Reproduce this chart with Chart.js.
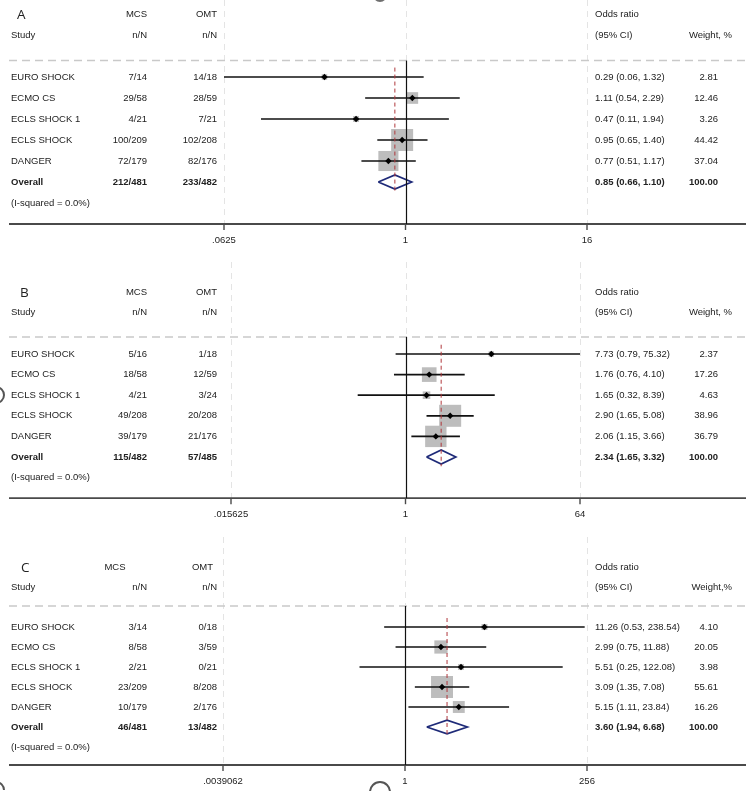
<!DOCTYPE html>
<html>
<head>
<meta charset="utf-8">
<script src="https://cdn.jsdelivr.net/npm/chart.js@4.4.1/dist/chart.umd.min.js"></script>
<style>
  html, body { margin: 0; padding: 0; background: #fff; }
  #wrap { position: relative; width: 750px; height: 791px; overflow: hidden; }
  #wrap canvas { position: absolute; left: 0; top: 0; }
</style>
</head>
<body>
<div id="wrap">
  <canvas id="panelA" width="750" height="791"></canvas>
  <canvas id="panelB" width="750" height="791"></canvas>
  <canvas id="panelC" width="750" height="791"></canvas>
</div>
<script>
const studies = ['EURO SHOCK', 'ECMO CS', 'ECLS SHOCK 1', 'ECLS SHOCK', 'DANGER']
const overallLabel = 'Overall'
const hetLabel = '(I-squared = 0.0%)'

// panel A  (last entry of every array = Overall)
const mcsEventsA = [7, 29, 4, 100, 72, 212]
const mcsTotalsA = [14, 58, 21, 209, 179, 481]
const omtEventsA = [14, 28, 7, 102, 82, 233]
const omtTotalsA = [18, 59, 21, 208, 176, 482]
const oddsA = [0.29, 1.11, 0.47, 0.95, 0.77, 0.85]
const lowA = [0.06, 0.54, 0.11, 0.65, 0.51, 0.66]
const highA = [1.32, 2.29, 1.94, 1.40, 1.17, 1.10]
const weightA = [2.81, 12.46, 3.26, 44.42, 37.04, 100.00]
const ticksA = [0.0625, 1, 16]
const tickLabelsA = ['.0625', '1', '16']

// panel B
const mcsEventsB = [5, 18, 4, 49, 39, 115]
const mcsTotalsB = [16, 58, 21, 208, 179, 482]
const omtEventsB = [1, 12, 3, 20, 21, 57]
const omtTotalsB = [18, 59, 24, 208, 176, 485]
const oddsB = [7.73, 1.76, 1.65, 2.90, 2.06, 2.34]
const lowB = [0.79, 0.76, 0.32, 1.65, 1.15, 1.65]
const highB = [75.32, 4.10, 8.39, 5.08, 3.66, 3.32]
const weightB = [2.37, 17.26, 4.63, 38.96, 36.79, 100.00]
const ticksB = [0.015625, 1, 64]
const tickLabelsB = ['.015625', '1', '64']

// panel C
const mcsEventsC = [3, 8, 2, 23, 10, 46]
const mcsTotalsC = [14, 58, 21, 209, 179, 481]
const omtEventsC = [0, 3, 0, 8, 2, 13]
const omtTotalsC = [18, 59, 21, 208, 176, 482]
const oddsC = [11.26, 2.99, 5.51, 3.09, 5.15, 3.60]
const lowC = [0.53, 0.75, 0.25, 1.35, 1.11, 1.94]
const highC = [238.54, 11.88, 122.08, 7.08, 23.84, 6.68]
const weightC = [4.10, 20.05, 3.98, 55.61, 16.26, 100.00]
const ticksC = [0.0039062, 1, 256]
const tickLabelsC = ['.0039062', '1', '256']

const FONT = '"Liberation Sans", Arial, Helvetica, sans-serif'
const PAGE_H = 791

const panels = [
  {
    canvas: 'panelA', letter: 'A', letterX: 17, weightHead: 'Weight, %',
    mcsE: mcsEventsA, mcsT: mcsTotalsA, omtE: omtEventsA, omtT: omtTotalsA,
    odds: oddsA, low: lowA, high: highA, weight: weightA,
    ticks: ticksA, tickLabels: tickLabelsA,
    box: {rowTop: 77, rowStep: 21, dashRow: -0.78, axisRow: 7, gridTop: 0, left: 224, right: 587},
    mcsHead: {x: 147, align: 'right'}, omtHead: {x: 217, align: 'right'}
  },
  {
    canvas: 'panelB', letter: 'B', letterX: 20, weightHead: 'Weight, %',
    mcsE: mcsEventsB, mcsT: mcsTotalsB, omtE: omtEventsB, omtT: omtTotalsB,
    odds: oddsB, low: lowB, high: highB, weight: weightB,
    ticks: ticksB, tickLabels: tickLabelsB,
    box: {rowTop: 354, rowStep: 20.6, dashRow: -0.83, axisRow: 7, gridTop: 262, left: 231, right: 580},
    mcsHead: {x: 147, align: 'right'}, omtHead: {x: 217, align: 'right'}
  },
  {
    canvas: 'panelC', letter: 'C', letterX: 21, weightHead: 'Weight,%',
    mcsE: mcsEventsC, mcsT: mcsTotalsC, omtE: omtEventsC, omtT: omtTotalsC,
    odds: oddsC, low: lowC, high: highC, weight: weightC,
    ticks: ticksC, tickLabels: tickLabelsC,
    box: {rowTop: 627, rowStep: 20, dashRow: -1.05, axisRow: 6.9, gridTop: 537, left: 223, right: 587},
    mcsHead: {x: 115, align: 'center'}, omtHead: {x: 213, align: 'right'}
  }
]

function f2(v) {
  return v.toFixed(2)
}

function text(ctx, str, x, y, align, bold, size, family) {
  ctx.font = (bold ? 'bold ' : '') + (size || 9.5) + 'px ' + (family || FONT)
  ctx.textAlign = align
  ctx.textBaseline = 'middle'
  ctx.fillStyle = '#222'
  ctx.fillText(str, x, y)
}

// odd little scan marks on the page
function pageMarks(ctx) {
  ctx.save()
  ctx.fillStyle = '#6f6f6f'
  ctx.beginPath()
  ctx.arc(380, -5, 7, 0, Math.PI * 2)
  ctx.fill()
  ctx.strokeStyle = '#555'
  ctx.lineWidth = 2
  ctx.beginPath()
  ctx.arc(-4, 395, 8, -Math.PI / 2, Math.PI / 2)
  ctx.stroke()
  ctx.beginPath()
  ctx.arc(380, 792, 10, Math.PI, Math.PI * 2)
  ctx.stroke()
  ctx.beginPath()
  ctx.arc(-4, 790, 8, -Math.PI / 2, 0)
  ctx.stroke()
  ctx.restore()
}

function makeDecor(p, withMarks) {
  const n = studies.length
  return {
    id: 'forestDecor' + p.letter,
    beforeDatasetsDraw(chart) {
      const {ctx, scales: {x, y}} = chart
      const b = p.box
      const dashY = y.getPixelForValue(b.dashRow)
      const axisY = y.getPixelForValue(b.axisRow)
      ctx.save()
      // vertical grid at ticks
      ctx.strokeStyle = '#e4e4e4'
      ctx.lineWidth = 1
      ctx.setLineDash([6, 5])
      p.ticks.forEach(t => {
        const px = Math.round(x.getPixelForValue(t)) + 0.5
        ctx.beginPath()
        ctx.moveTo(px, b.gridTop)
        ctx.lineTo(px, axisY)
        ctx.stroke()
      })
      // header separator
      ctx.strokeStyle = '#c9c9c9'
      ctx.lineWidth = 1.5
      ctx.setLineDash([8, 5])
      ctx.beginPath()
      ctx.moveTo(9, dashY)
      ctx.lineTo(746, dashY)
      ctx.stroke()
      ctx.setLineDash([])
      // axis
      ctx.strokeStyle = '#4a4a4a'
      ctx.lineWidth = 1.8
      ctx.beginPath()
      ctx.moveTo(9, axisY)
      ctx.lineTo(746, axisY)
      ctx.stroke()
      ctx.lineWidth = 1.4
      p.ticks.forEach((t, i) => {
        const px = x.getPixelForValue(t)
        ctx.beginPath()
        ctx.moveTo(px, axisY)
        ctx.lineTo(px, axisY + 6)
        ctx.stroke()
        text(ctx, p.tickLabels[i], px, axisY + 16, 'center', false, 9.5)
      })
      ctx.restore()
    },
    afterDatasetsDraw(chart) {
      const {ctx, scales: {x, y}} = chart
      const b = p.box
      const dashY = y.getPixelForValue(b.dashRow)
      const axisY = y.getPixelForValue(b.axisRow)
      ctx.save()
      // line of no effect
      const oneX = Math.round(x.getPixelForValue(1)) + 0.5
      ctx.strokeStyle = '#111'
      ctx.lineWidth = 1.2
      ctx.beginPath()
      ctx.moveTo(oneX, dashY)
      ctx.lineTo(oneX, axisY)
      ctx.stroke()
      // overall estimate
      const ovX = x.getPixelForValue(p.odds[n])
      ctx.strokeStyle = '#b0383c'
      ctx.lineWidth = 1
      ctx.setLineDash([4, 3])
      ctx.beginPath()
      ctx.moveTo(ovX, y.getPixelForValue(-0.45))
      ctx.lineTo(ovX, y.getPixelForValue(n + 0.45))
      ctx.stroke()
      ctx.setLineDash([])

      // table text
      const h1 = y.getPixelForValue(-3)
      const h2 = y.getPixelForValue(-2)
      text(ctx, p.letter, p.letterX, h1 + 1, 'left', false, 13.5, '"Open Sans", "Noto Sans", sans-serif')
      text(ctx, 'MCS', p.mcsHead.x, h1, p.mcsHead.align)
      text(ctx, 'OMT', p.omtHead.x, h1, p.omtHead.align)
      text(ctx, 'Odds ratio', 595, h1, 'left')
      text(ctx, 'Study', 11, h2, 'left')
      text(ctx, 'n/N', 147, h2, 'right')
      text(ctx, 'n/N', 217, h2, 'right')
      text(ctx, '(95% CI)', 595, h2, 'left')
      text(ctx, p.weightHead, 732, h2, 'right')
      for (let i = 0; i <= n; i++) {
        const ry = y.getPixelForValue(i)
        const bold = i === n
        text(ctx, bold ? overallLabel : studies[i], 11, ry, 'left', bold)
        text(ctx, p.mcsE[i] + '/' + p.mcsT[i], 147, ry, 'right', bold)
        text(ctx, p.omtE[i] + '/' + p.omtT[i], 217, ry, 'right', bold)
        text(ctx, f2(p.odds[i]) + ' (' + f2(p.low[i]) + ', ' + f2(p.high[i]) + ')', 595, ry, 'left', bold)
        text(ctx, f2(p.weight[i]), 718, ry, 'right', bold)
      }
      text(ctx, hetLabel, 11, y.getPixelForValue(n + 1), 'left')
      if (withMarks) pageMarks(ctx)
      ctx.restore()
    }
  }
}

function buildChart(p, withMarks) {
  const n = studies.length
  const b = p.box
  const rows = studies.map((s, i) => i)
  const wMax = Math.max(...p.weight.slice(0, n))
  const dh = 0.34

  const datasets = []
  datasets.push({
    label: 'weight',
    data: rows.map(i => ({x: p.odds[i], y: i})),
    pointStyle: 'rect',
    pointRadius: rows.map(i => 22 * Math.sqrt(p.weight[i] / wMax) / Math.SQRT2),
    backgroundColor: '#bdbdbd',
    borderWidth: 0,
    order: 4
  })
  rows.forEach(i => {
    datasets.push({
      label: studies[i],
      data: [{x: p.low[i], y: i}, {x: p.high[i], y: i}],
      showLine: true,
      borderColor: '#111',
      borderWidth: 1.7,
      pointRadius: 0,
      order: 3
    })
  })
  datasets.push({
    label: 'estimate',
    data: rows.map(i => ({x: p.odds[i], y: i})),
    pointStyle: 'rectRot',
    pointRadius: 3.2,
    backgroundColor: '#000',
    borderColor: '#000',
    borderWidth: 0,
    order: 2
  })
  datasets.push({
    label: overallLabel,
    data: [
      {x: p.low[n], y: n},
      {x: p.odds[n], y: n - dh},
      {x: p.high[n], y: n},
      {x: p.odds[n], y: n + dh},
      {x: p.low[n], y: n}
    ],
    showLine: true,
    borderColor: '#1e2a78',
    borderWidth: 1.7,
    pointRadius: 0,
    order: 1
  })

  return new Chart(document.getElementById(p.canvas), {
    type: 'scatter',
    data: {datasets},
    options: {
      responsive: false,
      animation: false,
      events: [],
      layout: {autoPadding: false, padding: {left: b.left, right: 750 - b.right, top: 0, bottom: 0}},
      plugins: {legend: {display: false}, tooltip: {enabled: false}},
      scales: {
        x: {
          type: 'logarithmic',
          min: p.ticks[0],
          max: p.ticks[p.ticks.length - 1],
          bounds: 'data',
          display: false
        },
        y: {
          type: 'linear',
          reverse: true,
          min: -b.rowTop / b.rowStep,
          max: (PAGE_H - b.rowTop) / b.rowStep,
          bounds: 'data',
          grace: 0,
          display: false
        }
      }
    },
    plugins: [makeDecor(p, withMarks)]
  })
}

panels.forEach((p, i) => buildChart(p, i === 0))
</script>
</body>
</html>
